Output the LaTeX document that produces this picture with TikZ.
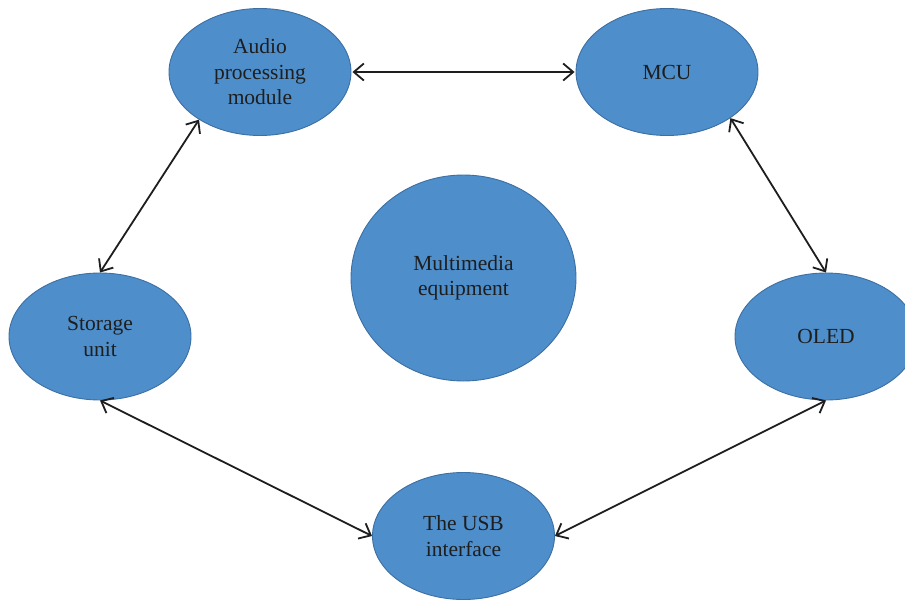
\documentclass[tikz,border=0pt]{standalone}
\usepackage{fontspec}
\setmainfont{Liberation Serif}
\usetikzlibrary{shapes.geometric,arrows.meta}
\definecolor{blockfill}{HTML}{4E8ECB}
\definecolor{blockline}{HTML}{3C6FA3}
\definecolor{inktext}{HTML}{1E1E1E}
\tikzset{
  blob/.style={ellipse, draw=blockline, fill=blockfill, line width=0.9pt,
    inner sep=0pt, minimum width=182pt, minimum height=127pt,
    text=inktext, align=center,
    font=\fontsize{21.5}{25.5}\selectfont},
  link/.style={draw=inktext, line width=1.8pt,
    {Straight Barb[length=10pt,width=17pt,line width=1.8pt]}-{Straight Barb[length=10pt,width=17pt,line width=1.8pt]}}
}
\begin{document}
\begin{tikzpicture}[x=1pt,y=-1pt]
  \useasboundingbox (0,0) rectangle (905,600);
  \begin{scope}
    \clip (0,0) rectangle (905,600);
    \node[blob] (audio) at (260,72) {Audio\\processing\\module};
    \node[blob] (mcu) at (667,72) {MCU};
    \node[blob, minimum width=225pt, minimum height=206pt] (media) at (463.5,278) {Multimedia\\equipment};
    \node[blob] (store) at (100,336.5) {Storage\\unit};
    \node[blob] (oled) at (826,336.5) {OLED};
    \node[blob] (usb) at (463.5,536) {The USB\\interface};
  \end{scope}
  \draw[link] ([xshift=1pt]audio.east) -- ([xshift=-1pt]mcu.west);
  \draw[link] (audio.218) -- (store.north);
  \draw[link] (mcu.-36) -- (oled.north);
  \draw[link] (store.south) -- (usb.west);
  \draw[link] (oled.south) -- (usb.east);
\end{tikzpicture}
\end{document}
